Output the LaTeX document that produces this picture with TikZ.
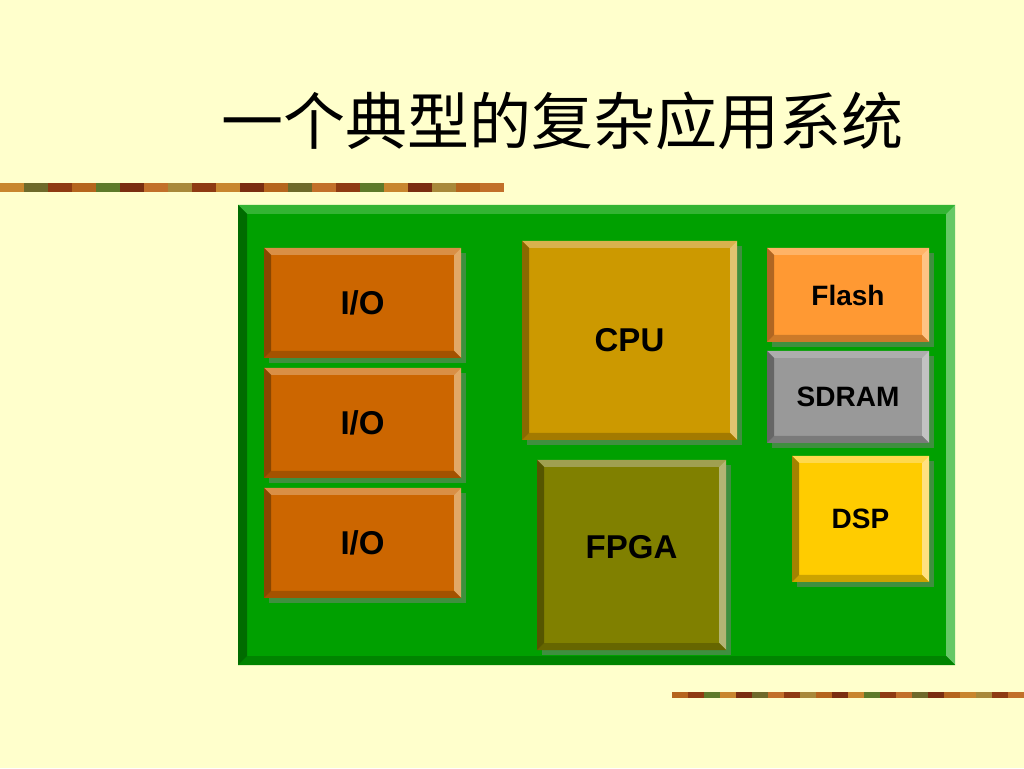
\documentclass[tikz,border=0pt]{standalone}
\usepackage{fontspec}
\setmainfont{Liberation Sans}
\newfontfamily\cjk{Noto Sans CJK SC}
\usetikzlibrary{positioning,shadows}

\definecolor{paper}{HTML}{FFFFCC}
\definecolor{shade}{HTML}{3F8F3F}
% board
\definecolor{pcb}{HTML}{00A000}
\definecolor{pcbtop}{HTML}{33B433}
\definecolor{pcbrt}{HTML}{66C866}
\definecolor{pcbbot}{HTML}{008400}
\definecolor{pcblt}{HTML}{006C00}
% chips
\definecolor{io}{HTML}{CC6600}
\definecolor{iotop}{HTML}{D98F45}
\definecolor{iort}{HTML}{E2A866}
\definecolor{iobot}{HTML}{A35200}
\definecolor{iolt}{HTML}{8A4600}
\definecolor{cpu}{HTML}{CC9900}
\definecolor{cputop}{HTML}{D9B24D}
\definecolor{cpurt}{HTML}{E2C470}
\definecolor{cpubot}{HTML}{A37A00}
\definecolor{cpult}{HTML}{8A6800}
\definecolor{flash}{HTML}{FF9933}
\definecolor{flashtop}{HTML}{FFB366}
\definecolor{flashrt}{HTML}{FFC484}
\definecolor{flashbot}{HTML}{CC7A29}
\definecolor{flashlt}{HTML}{B06622}
\definecolor{sdram}{HTML}{999999}
\definecolor{sdramtop}{HTML}{ADADAD}
\definecolor{sdramrt}{HTML}{C2C2C2}
\definecolor{sdrambot}{HTML}{7A7A7A}
\definecolor{sdramlt}{HTML}{666666}
\definecolor{dsp}{HTML}{FFCC00}
\definecolor{dsptop}{HTML}{FFD94D}
\definecolor{dsprt}{HTML}{FFE180}
\definecolor{dspbot}{HTML}{CCA300}
\definecolor{dsplt}{HTML}{A38200}
\definecolor{fpga}{HTML}{808000}
\definecolor{fpgatop}{HTML}{A0A050}
\definecolor{fpgart}{HTML}{B4B474}
\definecolor{fpgabot}{HTML}{666600}
\definecolor{fpgalt}{HTML}{555500}
% strip
\definecolor{barA}{HTML}{C8862E}
\definecolor{barB}{HTML}{8E3B12}
\definecolor{barC}{HTML}{6E6A2A}
\definecolor{barD}{HTML}{B5651D}
\definecolor{barE}{HTML}{7A2E10}
\definecolor{barF}{HTML}{A8893A}
\definecolor{barG}{HTML}{5E7A2A}
\definecolor{barH}{HTML}{C2702A}

% bevelled edges round a node: node, width, colour prefix
\newcommand{\bevel}[3]{%
  \fill[#3top] (#1.north west) -- (#1.north east) -- ([shift={(-#2,-#2)}]#1.north east)
    -- ([shift={(#2,-#2)}]#1.north west) -- cycle;
  \fill[#3rt] (#1.north east) -- (#1.south east) -- ([shift={(-#2,#2)}]#1.south east)
    -- ([shift={(-#2,-#2)}]#1.north east) -- cycle;
  \fill[#3bot] (#1.south east) -- (#1.south west) -- ([shift={(#2,#2)}]#1.south west)
    -- ([shift={(-#2,#2)}]#1.south east) -- cycle;
  \fill[#3lt] (#1.south west) -- (#1.north west) -- ([shift={(#2,-#2)}]#1.north west)
    -- ([shift={(#2,#2)}]#1.south west) -- cycle;
}

\begin{document}
\begin{tikzpicture}[x=1pt,y=1pt,
    chip/.style={inner sep=0pt,outer sep=0pt,
      font=\bfseries\fontsize{33}{36}\selectfont,
      drop shadow={shadow xshift=5pt,shadow yshift=-5pt,fill=shade,opacity=1}},
    small/.style={font=\bfseries\fontsize{28}{30}\selectfont}]
  \fill[paper] (0,0) rectangle (1024,768);
  \useasboundingbox (0,0) rectangle (1024,768);

  \node[font=\cjk\fontsize{62}{64}\selectfont] (title) at (562,647) {一个典型的复杂应用系统};

  % strips
  \foreach \c [count=\i from 0] in {barA,barC,barB,barD,barG,barE,barH,barF,barB,barA,barE,
      barD,barC,barH,barB,barG,barA,barE,barF,barD,barH}
    \fill[\c] (\i*24,576) rectangle ++(24,9);
  \foreach \c [count=\i from 0] in {barD,barB,barG,barA,barE,barC,barH,barB,barF,barD,barE,
      barA,barG,barB,barH,barC,barE,barD,barA,barF,barB,barH}
    \fill[\c] (672+\i*16,70) rectangle ++(16,6);

  % board
  \node[inner sep=0pt,outer sep=0pt,fill=pcb,minimum width=717,minimum height=460]
    (board) at (596.5,333) {};
  \bevel{board}{9}{pcb}

  % left column
  \node[chip,fill=io,minimum width=197,minimum height=110] (io1) at (362.5,465) {I/O};
  \node[chip,fill=io,minimum width=197,minimum height=110,below=10 of io1] (io2) {I/O};
  \node[chip,fill=io,minimum width=197,minimum height=110,below=10 of io2] (io3) {I/O};
  \bevel{io1}{7}{io}
  \bevel{io2}{7}{io}
  \bevel{io3}{7}{io}

  % middle
  \node[chip,fill=cpu,minimum width=215,minimum height=199] (cpu) at (629.5,427.5) {CPU};
  \node[chip,fill=fpga,minimum width=189,minimum height=190,text depth=16pt]
    (fpga) at (631.5,213) {FPGA};
  \bevel{cpu}{7}{cpu}
  \bevel{fpga}{7}{fpga}

  % right column
  \node[chip,small,fill=flash,minimum width=162,minimum height=94] (flash) at (848,473) {Flash};
  \node[chip,small,fill=sdram,minimum width=162,minimum height=92,below=9 of flash] (sdram) {SDRAM};
  \node[chip,small,fill=dsp,minimum width=137,minimum height=126] (dsp) at (860.5,249) {DSP};
  \bevel{flash}{7}{flash}
  \bevel{sdram}{7}{sdram}
  \bevel{dsp}{7}{dsp}
\end{tikzpicture}
\end{document}
